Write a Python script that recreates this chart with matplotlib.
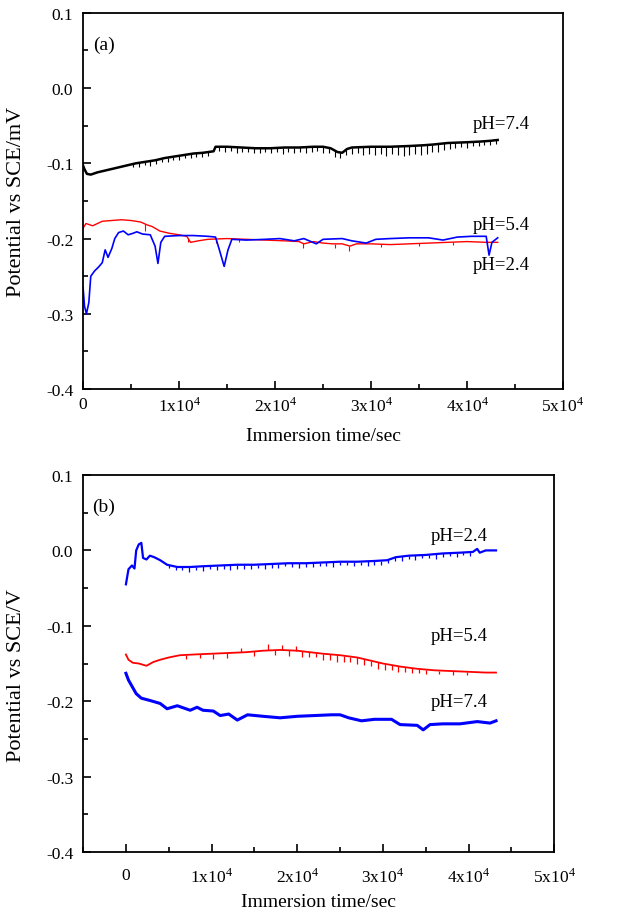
import numpy as np
import matplotlib
matplotlib.use("Agg")
import matplotlib.pyplot as plt
from matplotlib.ticker import MultipleLocator, FuncFormatter

plt.rcParams['font.family'] = ['Liberation Serif', 'DejaVu Serif']
plt.rcParams['mathtext.fontset'] = 'stix'
plt.rcParams['axes.unicode_minus'] = False

# ---------------- Panel (a) data ----------------
a74_t = [0, 150, 400, 800, 1500, 2500, 3500, 4500, 5500, 6500, 7500, 8500, 9500, 10500,
         11500, 12500, 13600, 13800, 15000, 16500, 18000, 19500, 21000, 22500, 24000, 25000,
         25800, 26500, 27000, 27500, 28000, 30000, 32000, 34000, 35500, 36500, 38000, 40000,
         41500, 42500, 43200]
a74_v = [-0.103, -0.108, -0.114, -0.115, -0.112, -0.109, -0.106, -0.103, -0.100, -0.098,
         -0.096, -0.093, -0.091, -0.089, -0.087, -0.086, -0.084, -0.078, -0.078, -0.079,
         -0.080, -0.080, -0.079, -0.079, -0.078, -0.078, -0.080, -0.085, -0.086, -0.081,
         -0.079, -0.078, -0.078, -0.077, -0.076, -0.075, -0.073, -0.072, -0.071, -0.070, -0.069]
a74_spike_t = [5200, 5800, 6400, 7000, 7600, 8200, 8800, 9400, 10000, 10600, 11200, 11800,
               12400, 13000, 14200, 14800, 15400, 16000, 16600, 17200, 17800, 18400, 19000,
               19600, 20200, 20800, 21400, 22000, 22600, 23200, 23800, 24400, 25000, 25600,
               26200, 26800, 27400, 28000, 28600, 29200, 29800, 30400, 31000, 31600, 32200,
               32800, 33400, 34000, 34600, 35200, 35800, 36400, 37000, 37600, 38200, 38800,
               39400, 40000, 40600, 41200, 41800, 42400, 43000]
a74_spike_drop = [0.004, 0.005, 0.004, 0.006, 0.005, 0.004, 0.006, 0.005, 0.006, 0.004, 0.006,
                  0.005, 0.006, 0.005, 0.006, 0.007, 0.005, 0.007, 0.006, 0.005, 0.007, 0.006,
                  0.005, 0.007, 0.006, 0.008, 0.006, 0.007, 0.006, 0.008, 0.007, 0.006, 0.008,
                  0.007, 0.009, 0.008, 0.007, 0.009, 0.008, 0.010, 0.009, 0.011, 0.010, 0.012,
                  0.010, 0.011, 0.013, 0.012, 0.011, 0.013, 0.012, 0.010, 0.011, 0.009, 0.008,
                  0.007, 0.006, 0.007, 0.005, 0.006, 0.005, 0.006, 0.005]

a24_t = [0, 300, 1000, 2000, 3000, 4000, 5000, 6000, 6700, 7200, 8000, 9000, 10000, 10800,
         11200, 12000, 13000, 15000, 17000, 19000, 21000, 22500, 23000, 24000, 25000, 26000,
         27000, 27800, 28500, 30000, 32000, 34000, 36000, 38000, 40000, 42000, 43200]
a24_v = [-0.186, -0.180, -0.183, -0.177, -0.176, -0.175, -0.176, -0.178, -0.182, -0.184,
         -0.190, -0.193, -0.195, -0.197, -0.205, -0.203, -0.201, -0.200, -0.201, -0.202,
         -0.203, -0.204, -0.207, -0.204, -0.206, -0.207, -0.207, -0.210, -0.207, -0.207,
         -0.208, -0.207, -0.206, -0.205, -0.204, -0.205, -0.205]
a24_spike_t = [6400, 10900, 13800, 16200, 22900, 26300, 27700, 31000, 35000, 38500]
a24_spike_drop = [0.010, 0.006, 0.005, 0.004, 0.006, 0.005, 0.007, 0.004, 0.004, 0.004]

a54_t = [0, 150, 350, 600, 800, 1200, 1600, 2000, 2300, 2600, 3000, 3300, 3700, 4200, 4700,
         5200, 5600, 6200, 7000, 7500, 7800, 8100, 8500, 10000, 11500, 13000, 13800, 14200,
         14700, 15100, 15500, 17000, 19000, 20500, 22000, 23000, 24300, 25000, 27000, 28000,
         29500, 30500, 32000, 34000, 36000, 37500, 39000, 40500, 42000, 42300, 42600, 43200]
a54_v = [-0.265, -0.290, -0.300, -0.285, -0.250, -0.243, -0.238, -0.232, -0.215, -0.225,
         -0.213, -0.200, -0.192, -0.190, -0.195, -0.193, -0.191, -0.194, -0.195, -0.210,
         -0.233, -0.205, -0.197, -0.196, -0.196, -0.197, -0.198, -0.215, -0.237, -0.215,
         -0.201, -0.202, -0.201, -0.200, -0.203, -0.200, -0.207, -0.201, -0.200, -0.203,
         -0.206, -0.201, -0.200, -0.199, -0.199, -0.202, -0.198, -0.197, -0.197, -0.222,
         -0.205, -0.199]

# ---------------- Panel (b) data ----------------
b24_t = [0, 300, 700, 1000, 1200, 1500, 1800, 2000, 2400, 2800, 3300, 4000, 4800, 6000, 7500,
         9000, 11000, 13000, 15000, 17000, 19000, 21000, 23000, 25000, 27000, 29000, 30500,
         31500, 33000, 35000, 37000, 39000, 40500, 41000, 41300, 42000, 43200]
b24_v = [-0.045, -0.025, -0.020, -0.024, 0.000, 0.008, 0.010, -0.010, -0.012, -0.007, -0.009,
         -0.013, -0.019, -0.022, -0.022, -0.021, -0.020, -0.019, -0.019, -0.018, -0.017,
         -0.017, -0.016, -0.015, -0.015, -0.014, -0.013, -0.009, -0.007, -0.006, -0.004,
         -0.003, -0.002, 0.002, -0.003, 0.000, 0.000]
b24_spike_t = [5000, 5800, 6600, 7400, 8200, 9000, 9800, 10600, 11400, 12200, 13000, 13800,
               14600, 15400, 16200, 17000, 17800, 18600, 19400, 20200, 21000, 21800, 22600,
               23400, 24200, 25000, 25800, 26600, 27400, 28200, 29000, 29800, 30600, 31400,
               32200, 33000, 33800, 34600, 35400, 36200, 37000, 37800, 38600, 39400, 40200]
b24_spike_drop = [0.004, 0.005, 0.004, 0.006, 0.005, 0.006, 0.004, 0.006, 0.005, 0.006, 0.005,
                  0.006, 0.005, 0.004, 0.006, 0.005, 0.006, 0.004, 0.005, 0.006, 0.005, 0.006,
                  0.004, 0.005, 0.006, 0.005, 0.004, 0.006, 0.005, 0.006, 0.005, 0.006, 0.004,
                  0.005, 0.006, 0.005, 0.006, 0.004, 0.005, 0.006, 0.005, 0.004, 0.005, 0.004,
                  0.005]

b54_t = [0, 300, 800, 1500, 2400, 3200, 4000, 5000, 6300, 8000, 10000, 12000, 14000, 16000,
         18000, 20000, 21500, 23000, 25000, 27000, 28500, 30000, 32000, 34000, 36000, 38000,
         40000, 42000, 43200]
b54_v = [-0.138, -0.145, -0.149, -0.150, -0.153, -0.148, -0.145, -0.142, -0.139, -0.138,
         -0.137, -0.136, -0.135, -0.133, -0.132, -0.133, -0.135, -0.137, -0.139, -0.142,
         -0.146, -0.150, -0.154, -0.157, -0.159, -0.160, -0.161, -0.162, -0.162]
b54_spike_t = [7000, 8600, 10200, 11800, 13400, 15000, 16600, 17400, 18200, 19000, 19800,
               20600, 21400, 22200, 23000, 23800, 24600, 25400, 26200, 27000, 27800, 28600,
               29400, 30200, 31000, 31800, 32600, 33400, 34200, 35000, 36600, 38200, 39800]
b54_spike_drop = [0.006, 0.005, 0.007, 0.006, -0.006, 0.006, -0.008, 0.007, -0.007, 0.008,
                  -0.006, 0.008, 0.007, 0.006, 0.008, 0.007, 0.009, 0.008, 0.007, 0.009,
                  0.008, 0.007, 0.009, 0.008, 0.007, 0.008, 0.006, 0.007, 0.005, 0.006,
                  0.004, 0.005, 0.004]

b74_t = [0, 300, 700, 1200, 1800, 2800, 4000, 4800, 6000, 7000, 7500, 8300, 9000, 10200, 11000,
         12000, 13000, 14200, 16000, 18000, 20000, 22000, 24000, 25000, 26000, 27500, 29000,
         31000, 32000, 34000, 34700, 35500, 37000, 39000, 41000, 42500, 43200]
b74_v = [-0.163, -0.172, -0.180, -0.190, -0.196, -0.199, -0.203, -0.210, -0.206, -0.210,
         -0.212, -0.208, -0.212, -0.213, -0.219, -0.217, -0.225, -0.218, -0.220, -0.222,
         -0.220, -0.219, -0.218, -0.218, -0.222, -0.226, -0.224, -0.224, -0.231, -0.232,
         -0.238, -0.231, -0.230, -0.230, -0.227, -0.229, -0.226]

labels_a = ["pH=7.4", "pH=5.4", "pH=2.4"]
labels_b = ["pH=2.4", "pH=5.4", "pH=7.4"]


def sci_fmt(x, pos):
    if abs(x) < 1:
        return "0"
    n = int(round(x / 1e4))
    return r"%dx10$^{\mathregular{4}}$" % n


def style_axis(ax, ylabel, xlim, xpad):
    ax.set_xlim(*xlim)
    ax.set_ylim(-0.4, 0.1)
    ax.xaxis.set_major_locator(MultipleLocator(10000))
    ax.xaxis.set_minor_locator(MultipleLocator(5000))
    ax.yaxis.set_major_locator(MultipleLocator(0.1))
    ax.yaxis.set_minor_locator(MultipleLocator(0.05))
    ax.xaxis.set_major_formatter(FuncFormatter(sci_fmt))
    ax.yaxis.set_major_formatter(FuncFormatter(lambda v, p: "%.1f" % v))
    ax.tick_params(which='both', direction='in', top=False, right=False,
                   labelsize=12.5, width=1.2)
    ax.tick_params(which='major', length=6)
    ax.tick_params(which='minor', length=3.5)
    ax.tick_params(axis='x', pad=xpad)
    ax.tick_params(axis='y', pad=7)
    for s in ax.spines.values():
        s.set_linewidth(1.3)
    ax.set_xlabel("Immersion time/sec", fontsize=14)
    ax.set_ylabel(ylabel, fontsize=16)


def spikes(ax, t, v, st, sd, color, lw):
    base = np.interp(st, t, v)
    ax.vlines(st, base - np.array(sd), base, color=color, lw=lw)


fig = plt.figure(figsize=(6.2, 9.2), dpi=100)

# Panel (a)
axa = fig.add_axes([0.134, 0.576, 0.774, 0.409])
axa.plot(a24_t, a24_v, color='#ff0000', lw=1.0)
spikes(axa, a24_t, a24_v, a24_spike_t, a24_spike_drop, '#ff0000', 0.8)
axa.plot(a54_t, a54_v, color='#0000ff', lw=1.2)
axa.plot(a74_t, a74_v, color='black', lw=1.8)
spikes(axa, a74_t, a74_v, a74_spike_t, a74_spike_drop, 'black', 0.8)
style_axis(axa, "Potential vs SCE/mV", (0, 50000), 5)
axa.yaxis.set_label_coords(-0.119, 0.5)
axa.xaxis.set_label_coords(0.5, -0.10)
axa.text(0.02, 0.94, "(a)", transform=axa.transAxes, fontsize=14, va='top')
axa.text(40600, -0.047, labels_a[0], fontsize=13.5, va='center')
axa.text(40600, -0.181, labels_a[1], fontsize=13.5, va='center')
axa.text(40600, -0.234, labels_a[2], fontsize=13.5, va='center')

# Panel (b)
axb = fig.add_axes([0.134, 0.0728, 0.760, 0.4098])
axb.plot(b24_t, b24_v, color='#0000ff', lw=1.6)
spikes(axb, b24_t, b24_v, b24_spike_t, b24_spike_drop, '#0000ff', 0.9)
axb.plot(b54_t, b54_v, color='#ff0000', lw=1.3)
spikes(axb, b54_t, b54_v, b54_spike_t, b54_spike_drop, '#ff0000', 0.9)
axb.plot(b74_t, b74_v, color='#0000ff', lw=2.2)
style_axis(axb, "Potential vs SCE/V", (-5000, 50000), 11)
axb.yaxis.set_label_coords(-0.121, 0.47)
axb.xaxis.set_label_coords(0.5, -0.11)
axb.text(0.02, 0.94, "(b)", transform=axb.transAxes, fontsize=14, va='top')
axb.text(35600, 0.020, labels_b[0], fontsize=13.5, va='center')
axb.text(35600, -0.113, labels_b[1], fontsize=13.5, va='center')
axb.text(35600, -0.200, labels_b[2], fontsize=13.5, va='center')

fig.savefig("out.png", dpi=100)
